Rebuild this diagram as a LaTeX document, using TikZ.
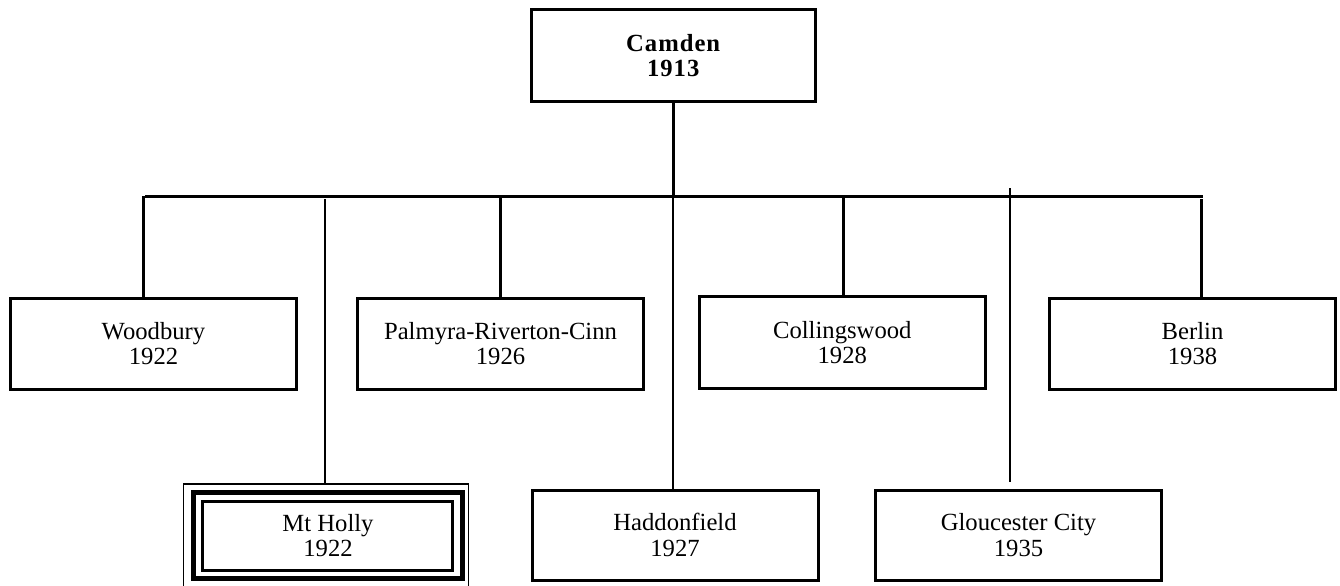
\documentclass[tikz,border=0pt]{standalone}
\usepackage{fontspec}
\setmainfont{Liberation Serif}
\usepackage{tikz}
\tikzset{every picture/.style={line width=0.75pt}}
\tikzset{
  town/.style={draw, line width=2.25pt, minimum width=214.5pt, minimum height=68.5pt,
    inner sep=0pt, align=center, font=\fontsize{18.5}{19}\selectfont},
  seat/.style={town, font=\fontsize{18.5}{19}\selectfont\bfseries\addfontfeature{LetterSpace=4}},
  drop/.style={line width=2.25pt},
  thinline/.style={line width=1.2pt},
}

\begin{document}
\begin{tikzpicture}[x=0.75pt,y=0.75pt,yscale=-1,xscale=1]
  \useasboundingbox (0,0) rectangle (1340,586);

  % Top box
  \node[seat, minimum width=212.75pt, minimum height=69pt] (camden) at (673.2,55.7) {Camden\\1913};

  % First row
  \node[town] (woodbury) at (153.5,343.7) {Woodbury\\1922};
  \node[town] (palmyra) at (500.5,343.7) {Palmyra-Riverton-Cinn\\1926};
  \node[town, minimum height=69.4pt] (colling) at (842.3,342.7) {Collingswood\\1928};
  \node[town] (berlin) at (1192.5,343.7) {Berlin\\1938};

  % Second row
  \node[town, minimum height=67.5pt] (haddon) at (675,535) {Haddonfield\\1927};
  \node[town, minimum height=67.5pt] (gloucester) at (1018.5,535) {Gloucester City\\1935};
  \node[town, line width=3.75pt, minimum width=201.75pt, minimum height=64.1pt] (holly) at (328,535.7) {Mt Holly\\1922};
  %Mt Holly frames
  \draw[line width=2.25pt] (202.7,501.7) rectangle (452.7,570.8);
  \begin{scope}
    \clip (0,0) rectangle (1340,586);
    \draw[thinline] (183.3,600) -- (183.3,484) -- (468.3,484) -- (468.3,600);
  \end{scope}

  % Bus points
  \coordinate (bleft) at (145,196);
  \coordinate (bright) at (1203,196);
  \coordinate (bcamden) at (camden.south |- bleft);
  \coordinate (bwood) at (143.5,196);
  \coordinate (bholly) at (325,199);
  \coordinate (bpalm) at (500,196);
  \coordinate (bhaddon) at (673,196);
  \coordinate (bcoll) at (843,196);
  \coordinate (bglou) at (1010,188);
  \coordinate (eglou) at (1010,482);
  \coordinate (bberlin) at (1201,199);

  % Connectors
  \draw[drop] (camden) -- (bcamden);
  \draw[drop] (bleft) -- (bright);
  \draw[drop] (bwood) -- (bwood |- woodbury.north);
  \draw[drop] (bpalm) -- (bpalm |- palmyra.north);
  \draw[drop] (bcoll) -- (bcoll |- colling.north);
  \draw[drop] (bberlin) -- (bberlin |- berlin.north);
  \draw[thinline] (bholly) -- (bholly |- 0,484);
  \draw[thinline] (bhaddon) -- (bhaddon |- haddon.north);
  \draw[thinline] (bglou) -- (eglou);

\end{tikzpicture}
\end{document}
